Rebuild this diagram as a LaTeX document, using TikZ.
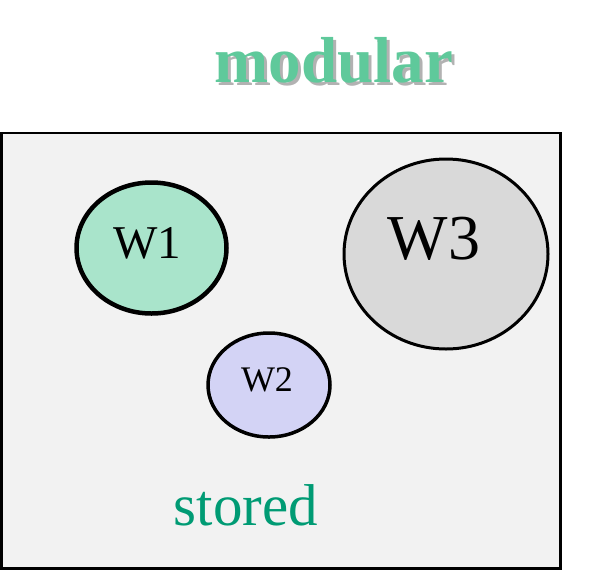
\documentclass[tikz,border=0pt]{standalone}
\usepackage{fontspec}
\setmainfont{Liberation Serif}
\usetikzlibrary{shapes.geometric}
\definecolor{boxgray}{HTML}{F2F2F2}
\definecolor{wonefill}{HTML}{A9E4CB}
\definecolor{wtwofill}{HTML}{D3D3F5}
\definecolor{wthreefill}{HTML}{D9D9D9}
\definecolor{storedgreen}{HTML}{009B74}
\definecolor{titlegreen}{HTML}{5FC99B}
\tikzset{blob/.style = {ellipse, draw=black, inner sep=0pt, text centered}}
\tikzset{label/.style = {anchor=base, inner sep=0pt}}
\newcommand{\shadowtext}[1]{\rlap{\hspace{3pt}\raisebox{-3pt}{\color{black!30}#1}}{\color{titlegreen}#1}}

\begin{document}
\begin{tikzpicture}[x=1pt, y=-1pt]
	\useasboundingbox (0,0) rectangle (604,574);
	\draw[line width=2.5pt, fill=boxgray] (1.5,133) rectangle (560.5,568.5);
	
	\node (w1) [blob, fill=wonefill, line width=4.5pt, minimum width=150, minimum height=131] at (151.5,248) {};
	\node (w2) [blob, fill=wtwofill, line width=3.5pt, minimum width=122, minimum height=104] at (269,385) {};
	\node (w3) [blob, fill=wthreefill, line width=3pt, minimum width=204, minimum height=190] at (446,254) {};
	
	\node (w1txt) [label, font=\fontsize{47}{47}\selectfont] at (147,258) {W1};
	\node (w2txt) [label, font=\fontsize{36}{36}\selectfont] at (267,391.5) {W2};
	\node (w3txt) [label, font=\fontsize{64}{64}\selectfont] at (434,259) {W3};
	
	\node (stored) [label, text=storedgreen, font=\fontsize{59}{59}\selectfont] at (246,525) {stored};
	
	\node (title) [label, font=\bfseries\fontsize{65}{65}\selectfont] at (334,82) {\shadowtext{modular}};
\end{tikzpicture}
\end{document}
